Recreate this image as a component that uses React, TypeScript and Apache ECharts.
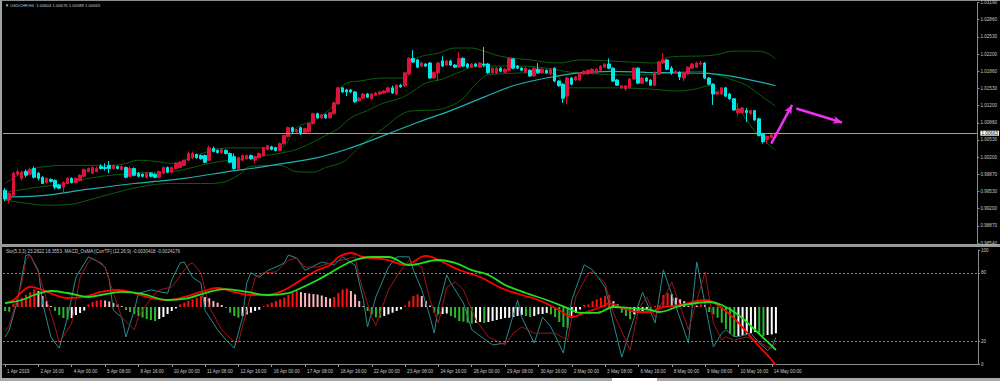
import React, { useEffect, useRef } from 'react';
import * as echarts from 'echarts';

const priceTicks = ['0.98540','0.98870','0.99200','0.99530','0.99870','1.00200','1.00530','1.00860','1.01200','1.01530','1.01860','1.02200','1.02530','1.02860','1.03190'];
const xTickLabels = ['1 Apr 2019','2 Apr 16:00','4 Apr 00:00','5 Apr 08:00','8 Apr 16:00','10 Apr 00:00','11 Apr 08:00','12 Apr 16:00','16 Apr 00:00','17 Apr 08:00','18 Apr 16:00','22 Apr 00:00','23 Apr 08:00','24 Apr 16:00','26 Apr 00:00','29 Apr 08:00','30 Apr 16:00','2 May 00:00','3 May 08:00','6 May 16:00','8 May 00:00','9 May 08:00','10 May 16:00','14 May 00:00'];
const SLOTS = 234;
const CUR_PRICE = 1.00663;

// [open, close, low, high]
const candles = [
[0.9956,0.9939,0.9935,0.9960],[0.9937,0.9950,0.9931,0.9952],[0.9946,0.9989,0.9945,0.9992],[0.9987,0.9992,0.9983,0.9996],[0.9979,0.9991,0.9975,0.9994],
[0.9992,0.9985,0.9981,0.9996],[0.9987,0.9996,0.9985,1.0000],[0.9998,0.9981,0.9979,1.0002],[0.9989,0.9979,0.9975,0.9991],[0.9981,0.9969,0.9968,0.9983],
[0.9971,0.9979,0.9969,0.9981],[0.9977,0.9973,0.9971,0.9979],[0.9975,0.9962,0.9958,0.9977],[0.9966,0.9960,0.9958,0.9968],[0.9962,0.9971,0.9950,0.9973],
[0.9969,0.9979,0.9968,0.9981],[0.9979,0.9971,0.9969,0.9981],[0.9971,0.9979,0.9969,0.9981],[0.9975,0.9985,0.9973,0.9987],[0.9983,0.9996,0.9981,0.9998],
[0.9992,0.9998,0.9991,1.0000],[0.9989,1.0000,0.9987,1.0002],[0.9992,0.9998,0.9991,1.0002],[1.0002,0.9998,0.9996,1.0006],[1.0000,0.9998,0.9994,1.0008],
[1.0004,0.9998,0.9989,1.0012],[0.9998,1.0004,0.9996,1.0006],[1.0002,0.9998,0.9996,1.0004],[0.9996,1.0002,0.9994,1.0004],[1.0000,0.9981,0.9979,1.0002],
[0.9983,0.9998,0.9981,1.0002],[0.9998,0.9985,0.9983,1.0000],[0.9989,0.9983,0.9981,0.9991],[0.9987,0.9983,0.9981,0.9989],[0.9981,0.9989,0.9979,0.9991],
[0.9989,0.9983,0.9981,0.9991],[0.9987,0.9981,0.9979,0.9989],[0.9981,0.9992,0.9979,0.9994],[0.9989,1.0000,0.9987,1.0002],[1.0000,0.9991,0.9989,1.0002],
[0.9991,1.0000,0.9989,1.0002],[0.9998,1.0008,0.9996,1.0010],[1.0000,1.0010,0.9998,1.0012],[1.0004,1.0014,1.0002,1.0015],[1.0014,1.0027,1.0012,1.0031],
[1.0019,1.0027,1.0017,1.0031],[1.0025,1.0019,1.0017,1.0027],[1.0023,1.0017,1.0015,1.0025],[1.0023,1.0010,1.0008,1.0025],[1.0014,1.0038,1.0012,1.0042],
[1.0037,1.0031,1.0029,1.0040],[1.0033,1.0029,1.0027,1.0035],[1.0029,1.0035,1.0027,1.0037],[1.0033,1.0027,1.0025,1.0035],[1.0027,1.0010,1.0008,1.0029],
[1.0021,0.9998,0.9996,1.0027],[0.9998,1.0019,0.9996,1.0021],[1.0014,1.0023,1.0012,1.0025],[1.0017,1.0023,1.0015,1.0025],[1.0023,1.0017,1.0015,1.0025],
[1.0014,1.0021,1.0008,1.0023],[1.0019,1.0027,1.0017,1.0029],[1.0023,1.0038,1.0021,1.0040],[1.0035,1.0042,1.0033,1.0044],[1.0040,1.0035,1.0033,1.0042],
[1.0038,1.0033,1.0031,1.0040],[1.0033,1.0046,1.0031,1.0048],[1.0046,1.0062,1.0044,1.0063],[1.0060,1.0077,1.0058,1.0079],[1.0077,1.0069,1.0067,1.0079],
[1.0069,1.0073,1.0067,1.0075],[1.0077,1.0065,1.0063,1.0079],[1.0067,1.0075,1.0065,1.0077],[1.0069,1.0085,1.0067,1.0087],[1.0085,1.0104,1.0083,1.0106],
[1.0104,1.0096,1.0094,1.0106],[1.0096,1.0102,1.0094,1.0104],[1.0102,1.0096,1.0094,1.0104],[1.0096,1.0106,1.0094,1.0108],[1.0104,1.0125,1.0102,1.0127],
[1.0123,1.0154,1.0121,1.0156],[1.0154,1.0146,1.0144,1.0156],[1.0150,1.0146,1.0138,1.0152],[1.0150,1.0146,1.0144,1.0152],[1.0146,1.0127,1.0125,1.0148],
[1.0129,1.0134,1.0127,1.0136],[1.0134,1.0142,1.0133,1.0144],[1.0142,1.0136,1.0134,1.0144],[1.0133,1.0142,1.0131,1.0144],[1.0140,1.0144,1.0138,1.0146],
[1.0142,1.0146,1.0140,1.0148],[1.0144,1.0148,1.0142,1.0150],[1.0146,1.0154,1.0144,1.0156],[1.0154,1.0144,1.0142,1.0158],[1.0142,1.0159,1.0140,1.0161],
[1.0159,1.0156,1.0154,1.0161],[1.0158,1.0183,1.0156,1.0184],[1.0181,1.0211,1.0179,1.0213],[1.0211,1.0204,1.0202,1.0227],[1.0208,1.0194,1.0192,1.0210],
[1.0196,1.0202,1.0194,1.0204],[1.0200,1.0196,1.0194,1.0202],[1.0202,1.0173,1.0171,1.0204],[1.0173,1.0184,1.0171,1.0186],[1.0183,1.0202,1.0167,1.0204],
[1.0206,1.0196,1.0194,1.0215],[1.0198,1.0206,1.0196,1.0208],[1.0206,1.0198,1.0196,1.0208],[1.0198,1.0194,1.0192,1.0200],[1.0194,1.0211,1.0192,1.0223],
[1.0211,1.0196,1.0194,1.0213],[1.0200,1.0194,1.0192,1.0202],[1.0194,1.0200,1.0192,1.0202],[1.0200,1.0196,1.0194,1.0202],[1.0194,1.0202,1.0192,1.0204],
[1.0200,1.0198,1.0194,1.0233],[1.0200,1.0183,1.0181,1.0202],[1.0183,1.0192,1.0181,1.0194],[1.0183,1.0192,1.0181,1.0194],[1.0192,1.0186,1.0184,1.0194],
[1.0184,1.0190,1.0183,1.0192],[1.0188,1.0211,1.0186,1.0213],[1.0210,1.0192,1.0190,1.0211],[1.0196,1.0192,1.0190,1.0198],[1.0192,1.0188,1.0186,1.0194],
[1.0184,1.0192,1.0183,1.0194],[1.0188,1.0177,1.0175,1.0190],[1.0177,1.0192,1.0175,1.0194],[1.0190,1.0183,1.0181,1.0202],[1.0183,1.0190,1.0181,1.0192],
[1.0188,1.0183,1.0181,1.0190],[1.0181,1.0190,1.0179,1.0192],[1.0192,1.0167,1.0165,1.0194],[1.0167,1.0158,1.0156,1.0169],[1.0161,1.0134,1.0125,1.0163],
[1.0138,1.0173,1.0123,1.0175],[1.0173,1.0161,1.0159,1.0175],[1.0169,1.0175,1.0167,1.0177],[1.0169,1.0183,1.0167,1.0184],[1.0181,1.0186,1.0179,1.0188],
[1.0181,1.0188,1.0179,1.0190],[1.0183,1.0190,1.0181,1.0192],[1.0183,1.0190,1.0181,1.0192],[1.0188,1.0196,1.0186,1.0198],[1.0194,1.0200,1.0192,1.0202],
[1.0200,1.0192,1.0190,1.0211],[1.0192,1.0167,1.0165,1.0194],[1.0169,1.0159,1.0158,1.0171],[1.0154,1.0158,1.0152,1.0159],[1.0152,1.0158,1.0148,1.0159],
[1.0154,1.0171,1.0152,1.0173],[1.0171,1.0192,1.0169,1.0194],[1.0192,1.0163,1.0161,1.0194],[1.0163,1.0173,1.0161,1.0175],[1.0173,1.0167,1.0165,1.0175],
[1.0169,1.0159,1.0158,1.0171],[1.0159,1.0184,1.0158,1.0186],[1.0181,1.0204,1.0179,1.0206],[1.0202,1.0208,1.0200,1.0221],[1.0208,1.0190,1.0188,1.0210],
[1.0192,1.0183,1.0179,1.0196],[1.0183,1.0186,1.0181,1.0188],[1.0184,1.0175,1.0169,1.0186],[1.0173,1.0183,1.0167,1.0184],[1.0181,1.0194,1.0179,1.0196],
[1.0192,1.0200,1.0190,1.0202],[1.0194,1.0202,1.0192,1.0204],[1.0200,1.0202,1.0198,1.0206],[1.0202,1.0173,1.0171,1.0204],[1.0173,1.0161,1.0159,1.0175],
[1.0161,1.0142,1.0121,1.0163],[1.0142,1.0146,1.0140,1.0148],[1.0142,1.0154,1.0140,1.0156],[1.0154,1.0138,1.0136,1.0156],[1.0142,1.0133,1.0131,1.0144],
[1.0133,1.0111,1.0110,1.0134],[1.0106,1.0113,1.0100,1.0125],[1.0106,1.0115,1.0104,1.0117],[1.0110,1.0106,1.0088,1.0115],[1.0104,1.0110,1.0102,1.0111],
[1.0110,1.0092,1.0090,1.0111],[1.0094,1.0062,1.0060,1.0096],[1.0065,1.0050,1.0046,1.0067],[1.0054,1.0060,1.0046,1.0062],[1.0058,1.0063,1.0056,1.0065],
[1.00604,1.00663,1.00589,1.00676]
];

// Bollinger bands and moving average, read at [bar, price]
const bbUpper = [[0,0.9969],[4,0.9989],[8,1.0000],[16,1.0004],[24,1.0004],[28,1.0006],[32,1.0014],[36,1.0012],[40,1.0008],[44,1.0017],[48,1.0029],[52,1.0037],[56,1.0038],[60,1.0038],[66,1.0038],[70,1.0077],[74,1.0090],[77,1.0106],[79,1.0123],[80,1.0148],[82,1.0163],[85,1.0167],[91,1.0173],[96,1.0173],[98,1.0206],[100,1.0215],[104,1.0221],[108,1.0231],[112,1.0231],[115,1.0225],[119,1.0215],[126,1.0208],[133,1.0202],[138,1.0208],[150,1.0204],[156,1.0202],[159,1.0213],[170,1.0217],[175,1.0225],[180,1.0225],[183,1.0221],[185,1.0210]];
const bbMiddle = [[0,0.9952],[8,0.9962],[16,0.9971],[20,0.9979],[28,0.9987],[36,0.9991],[40,0.9992],[44,0.9998],[48,1.0006],[52,1.0012],[56,1.0015],[59,1.0019],[67,1.0029],[71,1.0038],[77,1.0062],[80,1.0075],[83,1.0096],[87,1.0110],[91,1.0125],[95,1.0134],[98,1.0148],[101,1.0163],[105,1.0171],[109,1.0184],[114,1.0196],[119,1.0196],[124,1.0196],[130,1.0192],[136,1.0184],[142,1.0181],[148,1.0179],[154,1.0179],[160,1.0183],[166,1.0186],[170,1.0181],[174,1.0171],[178,1.0159],[182,1.0136],[185,1.0119]];
const bbLower = [[0,0.9937],[5,0.9931],[10,0.9927],[16,0.9929],[20,0.9937],[26,0.9950],[32,0.9962],[40,0.9969],[48,0.9969],[52,0.9971],[56,0.9985],[59,1.0002],[66,1.0004],[70,0.9992],[74,0.9991],[77,1.0000],[81,1.0010],[83,1.0023],[86,1.0046],[91,1.0077],[96,1.0106],[99,1.0110],[103,1.0111],[107,1.0119],[110,1.0134],[113,1.0161],[116,1.0179],[119,1.0181],[126,1.0183],[132,1.0181],[135,1.0154],[146,1.0154],[154,1.0152],[162,1.0148],[166,1.0152],[169,1.0158],[172,1.0144],[176,1.0115],[180,1.0071],[185,1.0033]];
const maLine = [[0,0.9943],[8,0.9945],[20,0.9958],[31,0.9969],[43,0.9979],[55,0.9994],[59,0.9998],[67,1.0008],[75,1.0019],[83,1.0038],[91,1.0062],[99,1.0087],[107,1.0110],[115,1.0136],[122,1.0158],[130,1.0173],[138,1.0183],[146,1.0186],[154,1.0184],[162,1.0183],[170,1.0181],[178,1.0171],[185,1.0158]];

// Stochastic (5,3,3) read at [bar, value]
const stochMain = [[0,23.7],[1,29.8],[3,56],[5,95.6],[6,95.6],[8,82],[9,53.5],[11,23.7],[12,18.4],[13,14],[15,41],[17,76],[20,94],[23,88.6],[24,85],[25,73.7],[26,47],[28,41],[29,23.7],[31,47],[32,62],[35,65],[39,62],[40,73.7],[42,88.6],[43,89.5],[45,76],[47,71],[48,47],[51,30],[53,21],[55,14],[57,41],[58,71],[59,80],[61,76],[63,82],[65,85],[67,88.6],[68,95.6],[70,93],[72,82],[73,84],[76,89.5],[79,86.8],[81,94],[84,86.8],[86,56],[87,32.5],[89,59],[92,85],[94,94],[97,94],[98,82.5],[100,65],[102,41],[103,27],[104,50],[106,78],[107,71],[110,53.5],[112,30],[117,16.7],[120,18.4],[123,56],[124,41],[127,18.4],[129,41],[131,32.5],[134,9.6],[136,56],[139,87],[141,82.5],[144,67.5],[146,36],[148,6],[151,41],[153,63],[156,36],[158,82.5],[164,18.4],[166,89.5],[170,15],[172,27],[173,30],[175,24],[176,24],[179,27],[181,18.4],[183,12],[184,15],[185,23.3]];
const stochSignal = [[0,28.4],[1,34],[4,71],[5,91],[6,95.6],[8,80],[10,56],[12,32.5],[13,18.4],[16,36],[18,76],[20,89.5],[21,93],[24,85],[26,62],[28,41],[31,30],[32,41],[35,58],[37,65],[40,67.5],[44,87],[45,88.6],[47,80],[49,50],[52,30],[55,19.3],[56,19.3],[58,47],[60,76],[62,80],[65,80.7],[68,91],[70,93],[72,85],[75,85],[78,88.6],[84,94],[85,76],[88,41],[89,34],[92,65],[95,82.5],[97,91],[100,85],[102,56],[104,36],[106,67.5],[108,72],[110,65],[113,38.6],[116,23.7],[120,16.7],[122,27],[124,32.5],[127,27],[132,27],[135,21],[137,59],[140,80],[141,80.7],[144,71],[146,44.7],[150,12.3],[152,48],[154,59],[156,41],[160,72],[164,30],[168,80.7],[170,36],[172,21],[173,23.7],[175,21],[178,23.7],[180,21],[183,15],[184,14],[185,18.4]];

// MACD (12,26,9) lines read at [bar, value]
const macdLine = [[0,0.00046],[2,0.00081],[4,0.00174],[6,0.00232],[9,0.00197],[12,0.00139],[15,0.00104],[19,0.00116],[23,0.00174],[27,0.00197],[31,0.00162],[35,0.00104],[39,0.00081],[43,0.00116],[47,0.00174],[51,0.0022],[55,0.00174],[59,0.00139],[63,0.00139],[67,0.00197],[71,0.00313],[75,0.00428],[78,0.00486],[80,0.00579],[83,0.00625],[86,0.00579],[92,0.00544],[96,0.00486],[101,0.00591],[105,0.00521],[109,0.00428],[114,0.00347],[119,0.0022],[124,0.00139],[128,0.00081],[133,-0.00035],[136,-0.00116],[139,-0.00069],[143,0],[145,0.00046],[148,-0.00012],[152,-0.00058],[155,-0.00058],[157,-0.00012],[162,0.00023],[168,0.00081],[172,-0.00012],[176,-0.00185],[180,-0.00405],[184,-0.00614],[185,-0.0068]];
const signalLine = [[0,0.00046],[4,0.00081],[7,0.00139],[11,0.00185],[15,0.00162],[20,0.00116],[23,0.00139],[28,0.00174],[33,0.00151],[39,0.00081],[44,0.00104],[48,0.00162],[53,0.00208],[58,0.00174],[63,0.00139],[68,0.00162],[71,0.0022],[75,0.00313],[78,0.00394],[80,0.00452],[84,0.00544],[88,0.00579],[92,0.00579],[97,0.00486],[104,0.00544],[108,0.0051],[112,0.00428],[116,0.00371],[120,0.00255],[125,0.00162],[130,0.00081],[135,-0.00012],[138,-0.00069],[142,-0.00069],[146,0],[150,-0.00012],[155,-0.00035],[157,-0.00058],[162,0.00012],[169,0.00058],[172,0.00023],[176,-0.00093],[180,-0.00266],[185,-0.00498]];

// OsMA histogram, one value per bar
const osma = [
-0.00046,-0.00054,0.00038,0.00069,0.00108,0.00139,0.00170,0.00203,0.00185,0.00127,
0.00069,0.00012,-0.00046,-0.00093,-0.00127,-0.00145,-0.00127,-0.00093,-0.00069,-0.00041,
0.00029,0.00058,0.00075,0.00081,0.00075,0.00064,0.00046,0.00029,0.00012,-0.00035,
-0.00058,-0.00081,-0.00104,-0.00122,-0.00139,-0.00151,-0.00162,-0.00139,-0.00116,-0.00081,
-0.00046,-0.00017,0.00031,0.00050,0.00069,0.00089,0.00108,0.00127,0.00116,0.00101,
0.00069,0.00050,0.00023,-0.00012,-0.00066,-0.00104,-0.00124,-0.00104,-0.00085,-0.00066,
-0.00046,-0.00031,0.00012,0.00031,0.00050,0.00069,0.00089,0.00108,0.00139,0.00166,
0.00185,0.00174,0.00162,0.00156,0.00151,0.00145,0.00133,0.00116,0.00098,0.00116,
0.00162,0.00203,0.00214,0.00185,0.00147,0.00069,0.00012,-0.00046,-0.00085,-0.00119,
-0.00124,-0.00104,-0.00085,-0.00066,-0.00046,-0.00027,0.00017,0.00069,0.00127,0.00147,
0.00127,0.00069,0.00017,-0.00066,-0.00085,-0.00081,-0.00075,-0.00104,-0.00124,-0.00162,
-0.00170,-0.00182,-0.00193,-0.00182,-0.00174,-0.00185,-0.00174,-0.00162,-0.00151,-0.00139,
-0.00127,-0.00124,-0.00116,-0.00104,-0.00093,-0.00104,-0.00116,-0.00104,-0.00085,-0.00081,
-0.00069,-0.00085,-0.00116,-0.00174,-0.00232,-0.00240,-0.00127,-0.00069,-0.00029,0.00023,
0.00031,0.00069,0.00089,0.00108,0.00127,0.00139,0.00069,0.00031,-0.00066,-0.00104,
-0.00142,-0.00085,-0.00066,-0.00046,-0.00035,-0.00041,0.00012,0.00017,0.00139,0.00162,
0.00151,0.00108,0.00089,0.00069,0.00012,0.00023,0.00017,0.00029,0.00023,-0.00058,
-0.00085,-0.00124,-0.00182,-0.00255,-0.00313,-0.00347,-0.00336,-0.00324,-0.00313,-0.00301,
-0.00290,-0.00307,-0.00336,-0.00324,-0.00318,-0.00304
];

// annotation arrows drawn on the chart: [fromBar, fromPrice, toBar, toPrice]
const arrows = [[183.5, 1.0046, 189, 1.0121], [189.5, 1.0114, 201, 1.0087]];

const FONT = 'Liberation Sans';
const TXT = '#c8c8c8';
const FRAME = '#8c8c8c';
const UP = '#dc143c';
const DOWN = '#00e8e8';
const BB = '#0b5e0b';

export default function App() {
  const ref = useRef<HTMLDivElement>(null);
  useEffect(() => {
    const chart = echarts.init(ref.current!, null, { renderer: 'svg' });
    const cats = Array.from({ length: SLOTS }, (_, i) => String(i));
    const showTick = (idx: number) => idx % 8 === 0 && idx / 8 < xTickLabels.length;
    const osmaData = osma.map((v, i) => {
      const prev = i > 0 ? osma[i - 1] : 0;
      let c;
      if (v >= 0) c = v >= prev ? '#ff1010' : '#ffb6c1';
      else c = v <= prev ? '#2db82d' : '#ffffff';
      return { value: v, itemStyle: { color: c } };
    });
    const arrowLines = arrows.map(a => [
      { coord: [a[0], a[1]], symbol: 'none', lineStyle: { color: '#f030f0', width: 2.5, type: 'solid' }, label: { show: false } },
      { coord: [a[2], a[3]], symbol: 'arrow', symbolSize: [6, 9] },
    ]);
    const option: any = {
      animation: false,
      backgroundColor: '#000000',
      textStyle: { fontFamily: FONT },
      grid: [
        { left: 3, top: 1, width: 975, height: 242 },
        { left: 3, top: 250, width: 975, height: 114 },
      ],
      xAxis: [
        { type: 'category', gridIndex: 0, data: cats, boundaryGap: true, axisLine: { show: false }, axisTick: { show: false }, axisLabel: { show: false } },
        {
          type: 'category', gridIndex: 1, data: cats, boundaryGap: true, offset: 2,
          axisLine: { show: true, lineStyle: { color: FRAME, width: 1 } },
          axisTick: { show: true, alignWithLabel: true, interval: (i: number) => showTick(i), length: 3, lineStyle: { color: FRAME } },
          axisLabel: {
            interval: (i: number) => showTick(i), color: TXT, fontSize: 4.6, fontFamily: FONT, align: 'left', margin: 3,
            padding: [0, 0, 0, 2], formatter: (_v: string, i: number) => xTickLabels[i / 8] || '',
          },
        },
      ],
      yAxis: [
        { type: 'value', gridIndex: 0, min: 0.9854, max: 1.0319, position: 'right', axisLine: { show: false }, axisTick: { show: false }, axisLabel: { show: false }, splitLine: { show: false } },
        {
          type: 'value', gridIndex: 0, min: 0, max: 14, interval: 1, position: 'right',
          axisLine: { show: true, lineStyle: { color: FRAME } }, axisTick: { show: true, length: 2, lineStyle: { color: FRAME } },
          axisLabel: { color: TXT, fontSize: 4.6, fontFamily: FONT, margin: 3, formatter: (v: number) => priceTicks[Math.round(v)] },
          splitLine: { show: false },
        },
        {
          type: 'value', gridIndex: 1, min: 0, max: 100, position: 'right',
          axisLine: { show: true, lineStyle: { color: FRAME } },
          axisTick: { show: true, length: 2, customValues: [0, 20, 80, 100], lineStyle: { color: FRAME } },
          axisLabel: { color: TXT, fontSize: 4.6, fontFamily: FONT, margin: 3, customValues: [0, 20, 80, 100] },
          splitLine: { show: false },
        },
        { type: 'value', gridIndex: 1, min: -0.0066, max: 0.0066, show: false, splitLine: { show: false } },
      ],
      graphic: [
        { type: 'rect', shape: { x: 0, y: 0, width: 1000, height: 1 }, style: { fill: FRAME }, silent: true },
        { type: 'rect', shape: { x: 0, y: 0, width: 2, height: 381 }, style: { fill: '#a0a0a0' }, silent: true },
        { type: 'rect', shape: { x: 0, y: 244, width: 1000, height: 3 }, style: { fill: '#9a9a9a' }, silent: true },
        { type: 'rect', shape: { x: 0, y: 378, width: 1000, height: 3 }, style: { fill: '#a8a8a8' }, silent: true },
        { type: 'rect', shape: { x: 612, y: 378, width: 45, height: 3 }, style: { fill: '#ffffff' }, silent: true },
        { type: 'text', x: 5, y: 3, style: { text: '\u25BC USDCHF,H4  1.00604 1.00676 1.00589 1.00663', fill: TXT, fontSize: 4.2, fontFamily: FONT, verticalAlign: 'top' }, silent: true },
        { type: 'text', x: 6, y: 249, style: { text: 'Sto(5,3,3) 23.2822 18.3553  MACD_OsMA [CurrTF] (12,26,9) -0.0030418 -0.0024176', fill: TXT, fontSize: 4.6, fontFamily: FONT, verticalAlign: 'top' }, silent: true },
      ],
      series: [
        {
          type: 'line', xAxisIndex: 0, yAxisIndex: 0, data: bbUpper, smooth: 0.4, showSymbol: false, lineStyle: { color: BB, width: 1 }, z: 2,
          markLine: {
            silent: true, symbol: ['none', 'none'], precision: 5,
            lineStyle: { color: '#a0a0a0', width: 1, type: 'solid' },
            label: { show: true, position: 'end', formatter: '1.00663', color: '#000', backgroundColor: '#ffffff', fontSize: 4.6, fontFamily: FONT, padding: [0, 1], distance: 3 },
            data: [{ yAxis: CUR_PRICE }],
          },
        },
        { type: 'line', xAxisIndex: 0, yAxisIndex: 0, data: bbMiddle, smooth: 0.4, showSymbol: false, lineStyle: { color: BB, width: 1 }, z: 2 },
        { type: 'line', xAxisIndex: 0, yAxisIndex: 0, data: bbLower, smooth: 0.4, showSymbol: false, lineStyle: { color: BB, width: 1 }, z: 2 },
        { type: 'line', xAxisIndex: 0, yAxisIndex: 0, data: maLine, smooth: 0.4, showSymbol: false, lineStyle: { color: '#1fb0b0', width: 1.2 }, z: 3 },
        {
          type: 'candlestick', xAxisIndex: 0, yAxisIndex: 0, data: candles, barWidth: 3, z: 4,
          itemStyle: { color: UP, color0: DOWN, borderColor: UP, borderColor0: DOWN, borderWidth: 1 },
          markLine: {
            silent: true, animation: false, precision: 5,
            data: arrowLines,
          },
        },
        {
          type: 'bar', xAxisIndex: 1, yAxisIndex: 3, data: osmaData, barWidth: 2, z: 2,
        },
        {
          type: 'line', xAxisIndex: 1, yAxisIndex: 2, data: stochMain, showSymbol: false, lineStyle: { color: '#2a8a8a', width: 1 }, z: 3,
          markLine: {
            silent: true, symbol: ['none', 'none'], label: { show: false },
            lineStyle: { color: '#8a8a8a', type: [2, 2], width: 1 },
            data: [{ yAxis: 80 }, { yAxis: 20 }],
          },
        },
        { type: 'line', xAxisIndex: 1, yAxisIndex: 2, data: stochSignal, showSymbol: false, lineStyle: { color: '#a01414', width: 1 }, z: 3 },
        { type: 'line', xAxisIndex: 1, yAxisIndex: 3, data: macdLine, smooth: 0.4, showSymbol: false, lineStyle: { color: '#ff0000', width: 1.8 }, z: 4 },
        { type: 'line', xAxisIndex: 1, yAxisIndex: 3, data: signalLine, smooth: 0.4, showSymbol: false, lineStyle: { color: '#20e020', width: 1.8 }, z: 4 },
      ],
    };
    chart.setOption(option);
    return () => chart.dispose();
  }, []);
  return <div ref={ref} style={{ width: 1000, height: 381, position: 'absolute', left: 0, top: 0 }} />;
}
